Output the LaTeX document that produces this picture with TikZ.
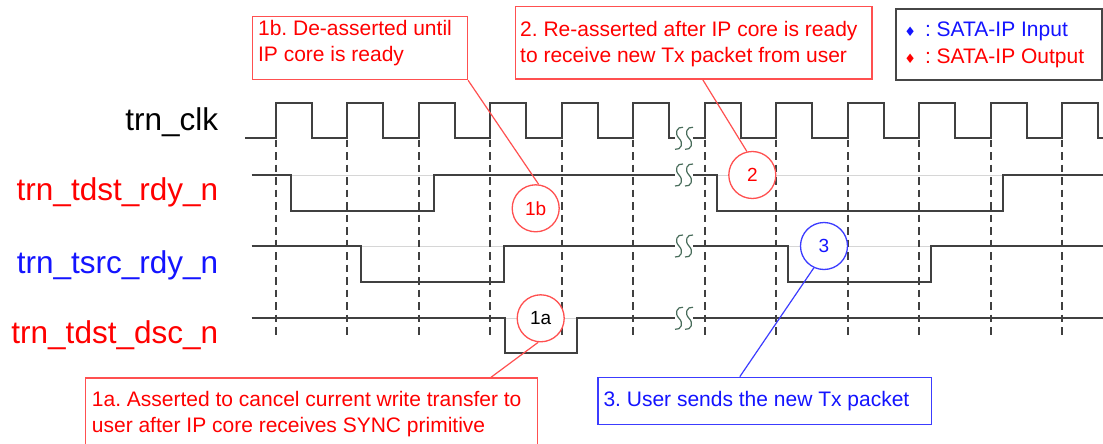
\documentclass[tikz,border=0pt]{standalone}
\usepackage{fontspec}
\setmainfont{Liberation Sans}
\newfontfamily\djv{DejaVu Sans}
\definecolor{sigc}{RGB}{64,64,64}
\definecolor{brkc}{RGB}{72,108,90}
\definecolor{tred}{RGB}{255,0,0}
\definecolor{tblue}{RGB}{20,20,255}
\definecolor{rline}{RGB}{255,80,80}
\definecolor{bline}{RGB}{60,60,255}
\definecolor{legc}{RGB}{70,70,70}
\frenchspacing
\begin{document}
\begin{tikzpicture}[x=1pt,y=-1pt,
  sig/.style={draw=sigc, line width=1.8pt},
  ghost/.style={draw=black!16, line width=1pt},
  tick/.style={draw=sigc, line width=1.7pt, dash pattern=on 7.5pt off 5pt},
  brkS/.style={draw=brkc, line width=1.2pt},
  brk/.pic={\draw[brkS] (4,-11) .. controls (-2,-12) and (-5,-5) .. (0,0) .. controls (5,5) and (2,12) .. (-4,11);},
  siglabel/.style={anchor=base east, inner sep=0pt, font=\fontsize{31.5}{36}\selectfont},
  notebox/.style={anchor=north west, fill=white, line width=1.3pt, inner sep=0pt},
  notetext/.style={anchor=north west, inner sep=0pt, align=left, font=\fontsize{21}{26}\selectfont},
  numc/.style={circle, fill=white, line width=1.3pt, minimum size=47pt, inner sep=0pt, font=\fontsize{19}{22}\selectfont},
  lead/.style={line width=1.2pt}
]
\useasboundingbox (0,0) rectangle (1103,444);

% faint high-level lines
\draw[ghost] (290.7,175) -- (434,175);
\draw[ghost] (717.3,175) -- (1002.7,175);
\draw[ghost] (360.7,246) -- (504,246);
\draw[ghost] (788.3,246) -- (931,246);
\draw[ghost] (505,318.3) -- (576.7,318.3);

% dashed clock-edge markers
\foreach \k in {0,...,11}
  \draw[tick] ({275.7+71.5*\k},139.5) -- ({275.7+71.5*\k},338.3);

% trn_clk
\draw[sig] (245,138.3) foreach \k in {0,...,5} { -- ({275.7+71.5*\k},138.3) -- ++(0,-35) -- ++(36,0) -- ++(0,35) } -- (675,138.3);
\draw[sig] (693,138.3) foreach \k in {6,...,11} { -- ({275.7+71.5*\k},138.3) -- ++(0,-35) -- ++(36,0) -- ++(0,35) } -- (1103,138.3);

% trn_tdst_rdy_n
\draw[sig] (251.7,175) -- (290.7,175) -- (290.7,210.7) -- (434,210.7) -- (434,175) -- (675,175);
\draw[sig] (693,175) -- (717.3,175) -- (717.3,210.7) -- (1002.7,210.7) -- (1002.7,175) -- (1103,175);

% trn_tsrc_rdy_n
\draw[sig] (251.7,246) -- (360.7,246) -- (360.7,281.7) -- (504,281.7) -- (504,246) -- (675,246);
\draw[sig] (693,246) -- (788.3,246) -- (788.3,281.7) -- (931,281.7) -- (931,246) -- (1103,246);

% trn_tdst_dsc_n
\draw[sig] (251.7,318.3) -- (505,318.3) -- (505,353.3) -- (576.7,353.3) -- (576.7,318.3) -- (675,318.3);
\draw[sig] (693,318.3) -- (1103,318.3);

% time breaks
\foreach \yy in {138.3,175,246,318.3} {
  \pic at (679,\yy) {brk};
  \pic at (689,\yy) {brk};
}

% signal names
\node[siglabel, text=black] (lclk) at (218.3,130) {trn\_clk};
\node[siglabel, text=tred] (lrdy) at (218.3,200.5) {trn\_tdst\_rdy\_n};
\node[siglabel, text=tblue] (lsrc) at (218.3,273.3) {trn\_tsrc\_rdy\_n};
\node[siglabel, text=tred] (ldsc) at (218.3,343.3) {trn\_tdst\_dsc\_n};

% note boxes
\node[notebox, draw=rline, minimum width=215pt, minimum height=63.3pt] (b1b) at (251.8,15.7) {};
\node[notebox, draw=rline, minimum width=356.6pt, minimum height=72.3pt] (b2) at (514.6,6) {};
\node[notebox, draw=rline, minimum width=451.7pt, minimum height=80pt] (b1a) at (85,377.3) {};
\node[notebox, draw=bline, minimum width=333.4pt, minimum height=47.3pt] (b3) at (597.3,376.7) {};
\node[notebox, draw=legc, line width=1.6pt, minimum width=206pt, minimum height=70.7pt] (bleg) at (895,8.3) {};

% callout circles
\node[numc, draw=rline, text=tred] (c1b) at (535.7,208.3) {1b};
\node[numc, draw=rline, text=black] (c1a) at (540.7,318.3) {1a};
\node[numc, draw=rline, text=tred] (c2) at (752.3,175) {2};
\node[numc, draw=bline, text=tblue] (c3) at (824,246) {3};

% leader lines
\draw[lead, draw=rline] (b1b.south east) -- (c1b.83);
\draw[lead, draw=rline] ([xshift=188.1pt]b2.south west) -- (c2.103);
\draw[lead, draw=rline] ([xshift=406pt]b1a.north west) -- (c1a.264);
\draw[lead, draw=bline] ([xshift=142.5pt]b3.north west) -- (c3.245);

% note texts
\node[notetext, text=tred] (t1b) at (257.9,19.8) {1b. De-asserted until\\IP core is ready};
\node[notetext, text=tred] (t2) at (520,21.4) {2. Re-asserted after IP core is ready\\to receive new Tx packet from user};
\node[notetext, text=tred] (t1a) at (91.7,391.4) {1a. Asserted to cancel current write transfer to\\user after IP core receives SYNC primitive};
\node[notetext, text=tblue] (t3) at (603.3,391.4) {3. User sends the new Tx packet};

% legend
\node[anchor=base west, inner sep=0pt, text=tblue, font=\fontsize{21}{26}\selectfont] (lin) at (904.2,36.7) {{\djv\fontsize{13}{13}\selectfont ♦}\hspace{9pt}: SATA-IP Input};
\node[anchor=base west, inner sep=0pt, text=tred, font=\fontsize{21}{26}\selectfont] (lout) at (904.2,63.3) {{\djv\fontsize{13}{13}\selectfont ♦}\hspace{9pt}: SATA-IP Output};
\end{tikzpicture}
\end{document}
